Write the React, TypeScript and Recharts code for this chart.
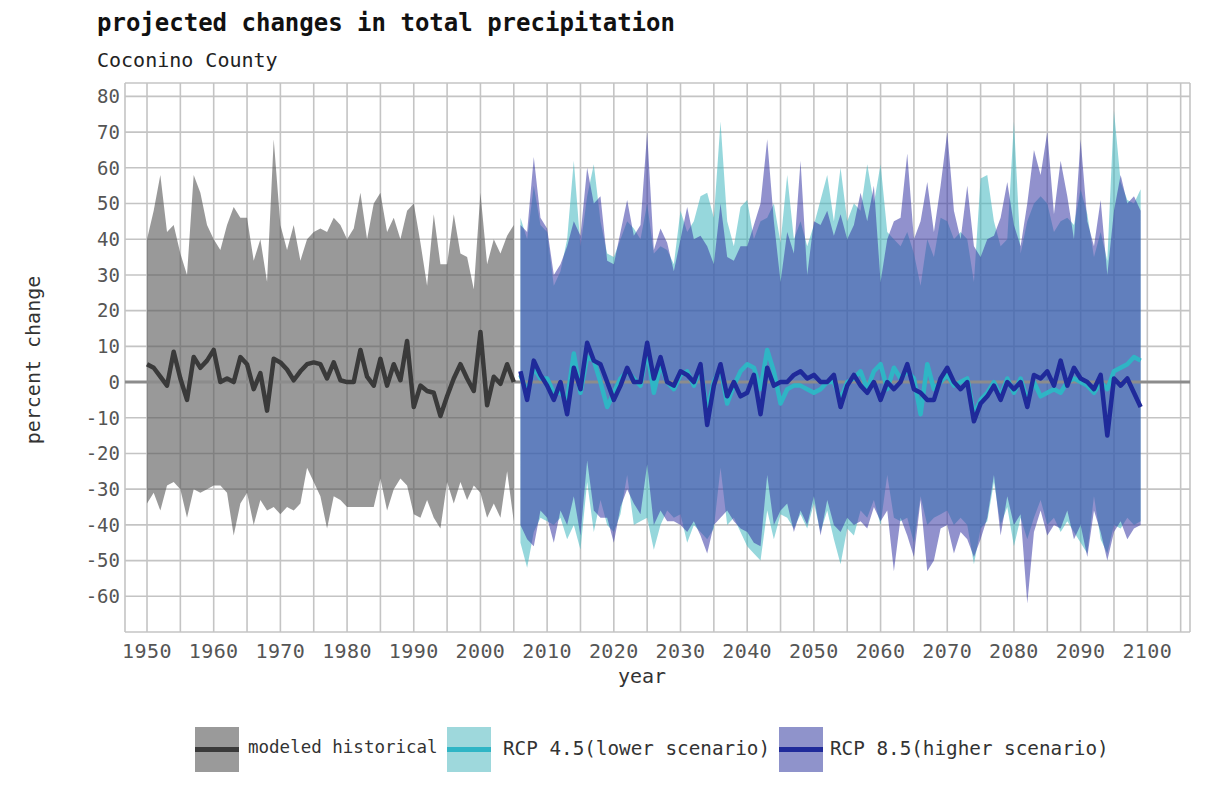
import React from 'react';
import { ComposedChart, Area, Line, XAxis, YAxis, CartesianGrid, ReferenceLine } from 'recharts';

// modeled historical, 1950-2005 (percent change)
const HIST_START = 1950;
const histMax = [
  40, 48, 58, 42, 44, 36, 30, 58, 53, 44,
  40, 37, 44, 49, 46, 46, 34, 40, 28, 68,
  44, 37, 44, 34, 40, 42, 43, 42, 46, 44,
  40, 43, 53, 40, 50, 53, 42, 46, 40, 48,
  50, 39, 27, 47, 33, 33, 47, 36, 35, 26,
  53, 33, 40, 36, 41, 44,
];
const histMin = [
  -34, -31, -36, -29, -28, -30, -38, -30, -31, -30,
  -29, -29, -31, -43, -34, -31, -40, -33, -36, -35,
  -37, -35, -36, -34, -24, -28, -32, -41, -32, -33,
  -35, -35, -35, -35, -35, -27, -36, -30, -27, -29,
  -37, -38, -33, -38, -41, -28, -34, -28, -33, -29,
  -31, -38, -34, -38, -25, -39,
];
const histMedian = [
  5, 4, 1.5, -1, 8.5, 1, -5, 7, 4, 6,
  9, 0, 1, 0, 7, 5, -2, 2.5, -8, 6.5,
  5.5, 3.5, 0.5, 3, 5, 5.5, 5, 1, 5.5, 0.5,
  0, 0, 9, 1.5, -1, 6.5, -1, 5, 0.5, 11.5,
  -7, -1, -2.5, -3, -9.5, -4, 1, 5, 1, -2.5,
  14, -6.5, 1.5, -0.5, 5, 0,
];

// projections, 2006-2099
const RCP_START = 2006;
const rcp45Max = [
  46, 40, 55, 44, 42, 27, 31, 40, 62, 38,
  52, 61, 45, 36, 35, 40, 45, 43, 40, 50,
  36, 38, 37, 33, 48, 42, 45, 52, 53, 46,
  73, 45, 38, 49, 51, 40, 45, 46, 50, 39,
  58, 40, 45, 38, 44, 51, 58, 45, 60, 45,
  50, 48, 61, 50, 61, 42, 40, 38, 42, 36,
  27, 40, 35, 46, 45, 40, 42, 40, 28, 57,
  58, 45, 38, 40, 73, 36, 45, 50, 52, 50,
  42, 45, 46, 44, 54, 47, 35, 42, 34, 76,
  56, 51, 50, 54,
];
const rcp45Min = [
  -45, -52, -42, -38, -39, -40, -38, -44, -40, -47,
  -28, -42, -33, -40, -42, -37, -26, -40, -39, -38,
  -47, -40, -36, -38, -37, -45, -40, -42, -44, -41,
  -24, -40, -38, -42, -46, -48, -50, -36, -44, -37,
  -38, -41, -37, -41, -34, -42, -36, -44, -51, -41,
  -43, -36, -38, -33, -40, -26, -38, -39, -38, -45,
  -32, -40, -38, -37, -36, -40, -38, -40, -51, -41,
  -39, -28, -40, -35, -46, -38, -44, -38, -33, -40,
  -38, -42, -39, -42, -45, -48, -32, -44, -48, -40,
  -41, -38, -40, -39,
];
const rcp45Median = [
  2, -3, 4, 1, 1, -3, -3, -5, 8, -3,
  7, 6, 0, -7, -3, 1, 3, 1, -1, 9,
  -3, 5, 0, -2, 2, 3, -1, 4, -8, 0,
  4, -6, -1, 3, 5, 4, -2, 9, 3, -6,
  -2, -1, -1, -2, -3, -2, 0, 0, -5, 0,
  1, 3, -2, 3, 5, -2, 4, 1, 3, 1,
  -9, 5, -2, 0, 2, -1, 0, 1, -9, -5,
  -3, 0, -4, 1, -3, 1, -5, 0, -4, -3,
  -2, -3, 0, 1, 0, -1, -3, 0, -2, 3,
  4, 5, 7, 6,
];
const rcp85Max = [
  44, 42, 63, 46, 43, 30, 33, 38, 45, 41,
  60, 50, 52, 34, 33, 42, 51, 41, 44, 70,
  37, 43, 39, 31, 40, 49, 40, 41, 38, 33,
  50, 35, 34, 38, 38, 44, 50, 68, 45, 28,
  42, 36, 62, 30, 45, 44, 48, 41, 47, 40,
  44, 53, 45, 55, 28, 40, 45, 46, 64, 40,
  45, 56, 42, 55, 70, 48, 40, 55, 38, 35,
  40, 41, 46, 56, 44, 38, 50, 65, 58, 70,
  47, 62, 52, 40, 68, 45, 38, 51, 30, 48,
  58, 50, 52, 48,
];
const rcp85Min = [
  -40, -44, -46, -36, -38, -45, -36, -40, -32, -43,
  -22, -36, -38, -38, -45, -35, -30, -34, -37, -23,
  -40, -36, -39, -39, -40, -42, -39, -43, -48, -40,
  -38, -36, -39, -41, -42, -45, -46, -26, -40, -36,
  -34, -42, -36, -40, -32, -43, -33, -40, -42, -38,
  -40, -39, -41, -35, -39, -36, -53, -38, -43, -49,
  -33, -53, -50, -41, -40, -48, -42, -44, -49, -44,
  -38, -26, -43, -32, -40, -37, -62, -42, -36, -43,
  -40, -41, -36, -44, -40, -49, -36, -42, -50, -42,
  -39, -44, -41, -40,
];
const rcp85Median = [
  3, -5, 6, 2, -1, -5, 0, -9, 4, -2,
  11, 6, 5, 0, -5, -1, 4, 0, 0, 11,
  1, 7, 0, -1, 3, 2, 0, 5, -12, -1,
  5, -4, 0, -4, -3, 2, -9, 4, -1, 0,
  0, 2, 3, 1, 2, 0, 0, 2, -7, -1,
  2, -1, -3, 0, -5, 0, -2, 0, 5, -2,
  -3, -5, -5, 1, 4, 0, -2, 0, -11, -6,
  -4, -1, -5, 0, -2, 0, -7, 2, 1, 3,
  -1, 6, -1, 4, 1, 0, -2, 2, -15, 1,
  -1, 1, -3, -7,
];

const xTicks = [1950, 1955, 1960, 1965, 1970, 1975, 1980, 1985, 1990, 1995, 2000, 2005, 2010, 2015, 2020, 2025, 2030, 2035, 2040, 2045, 2050, 2055, 2060, 2065, 2070, 2075, 2080, 2085, 2090, 2095, 2100, 2105];
const yTicks = [-60, -50, -40, -30, -20, -10, 0, 10, 20, 30, 40, 50, 60, 70, 80];

const rows: any[] = [];
for (let yr = HIST_START; yr < RCP_START + rcp85Median.length; yr++) {
  const row: any = { year: yr };
  const h = yr - HIST_START;
  if (h < histMedian.length) {
    row.histBand = [histMin[h], histMax[h]];
    row.hist = histMedian[h];
  }
  const r = yr - RCP_START;
  if (r >= 0) {
    row.r45Band = [rcp45Min[r], rcp45Max[r]];
    row.r45 = rcp45Median[r];
    row.r85Band = [rcp85Min[r], rcp85Max[r]];
    row.r85 = rcp85Median[r];
  }
  rows.push(row);
}

const mono = "'DejaVu Sans Mono', monospace";

const legendItems = [
  { label: 'modeled historical', box: '#9a9a9a', line: '#3a3a3a', left: 195, textLeft: 248, size: 17.5 },
  { label: 'RCP 4.5(lower scenario)', box: '#9ed8dc', line: '#2fb5c5', left: 447, textLeft: 503, size: 19.3 },
  { label: 'RCP 8.5(higher scenario)', box: '#8f93cb', line: '#1f2a9a', left: 779, textLeft: 830, size: 19.3 },
];

export default function App() {
  return (
    <div style={{ position: 'absolute', left: 0, top: 0, width: 1208, height: 791, background: '#fff', fontFamily: mono }}>
      <div style={{ position: 'absolute', left: 97, top: 9, fontSize: 24, fontWeight: 'bold', color: '#111' }}>
        projected changes in total precipitation
      </div>
      <div style={{ position: 'absolute', left: 97, top: 48, fontSize: 20, color: '#222' }}>Coconino County</div>

      <div style={{ position: 'absolute', left: 0, top: 0 }}>
        <ComposedChart width={1208} height={791} data={rows} margin={{ top: 83, right: 18, bottom: 119, left: 60 }}>
          <CartesianGrid stroke="#c4c4c4" strokeWidth={1.6} />
          <XAxis
            type="number"
            dataKey="year"
            domain={[1946.7, 2106.4]}
            ticks={xTicks}
            interval={0}
            allowDataOverflow
            axisLine={false}
            tickLine={false}
            tickSize={6}
            tickMargin={6}
            height={40}
            tick={{ fill: '#555', fontSize: 20, fontFamily: mono, letterSpacing: 0.4 }}
            tickFormatter={(v: number) => (v % 10 === 0 && v <= 2100 ? String(v) : '')}
          />
          <YAxis
            type="number"
            domain={[-70, 83.75]}
            ticks={yTicks}
            interval={0}
            allowDataOverflow
            axisLine={false}
            tickLine={false}
            tickSize={5}
            tickMargin={0}
            width={65}
            tick={{ fill: '#555', fontSize: 19, fontFamily: mono }}
          />
          <ReferenceLine y={0} stroke="#8c8c8c" strokeWidth={3} />
          <Area dataKey="histBand" type="linear" stroke="none" fill="#555555" fillOpacity={0.6} isAnimationActive={false} />
          <Area dataKey="r45Band" type="linear" stroke="none" fill="#40b6bf" fillOpacity={0.55} isAnimationActive={false} />
          <Area dataKey="r85Band" type="linear" stroke="none" fill="#3737a4" fillOpacity={0.55} isAnimationActive={false} />
          <Line dataKey="hist" type="linear" stroke="#3a3a3a" strokeWidth={4.5} strokeLinejoin="round" dot={false} isAnimationActive={false} />
          <Line dataKey="r45" type="linear" stroke="#2fb5c5" strokeWidth={4.5} strokeLinejoin="round" dot={false} isAnimationActive={false} />
          <Line dataKey="r85" type="linear" stroke="#1f2a9a" strokeWidth={4.5} strokeLinejoin="round" dot={false} isAnimationActive={false} />
        </ComposedChart>
      </div>

      <div style={{ position: 'absolute', left: 592, top: 664, width: 100, textAlign: 'center', fontSize: 20, color: '#333' }}>year</div>
      <div
        style={{
          position: 'absolute', left: 33, top: 360, fontSize: 20, color: '#333', whiteSpace: 'nowrap',
          transform: 'translate(-50%, -50%) rotate(-90deg)',
        }}
      >
        percent change
      </div>

      {legendItems.map((it) => (
        <React.Fragment key={it.label}>
          <div style={{ position: 'absolute', left: it.left, top: 727, width: 44, height: 45, background: it.box }}>
            <div style={{ position: 'absolute', left: 0, top: 20, width: 44, height: 5, background: it.line }} />
          </div>
          <div style={{ position: 'absolute', left: it.textLeft, top: 737, fontSize: it.size, color: '#333', whiteSpace: 'nowrap' }}>
            {it.label}
          </div>
        </React.Fragment>
      ))}
    </div>
  );
}
